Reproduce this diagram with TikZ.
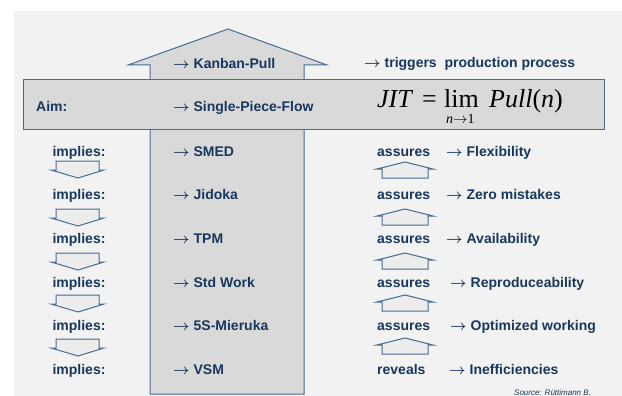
\documentclass[tikz,border=0pt]{standalone}
\usepackage{fontspec}
\setmainfont{Liberation Sans}
\newfontfamily\formulafont{Liberation Serif}
\newcommand{\ra}{{\boldmath$\rightarrow$}}
\definecolor{txtblue}{RGB}{23,55,94}
\definecolor{edgeblue}{RGB}{72,108,148}
\definecolor{boxgray}{RGB}{217,217,217}
\definecolor{arrowgray}{RGB}{236,236,236}
\definecolor{bggray}{RGB}{242,242,242}
\tikzset{
  lbl/.style={text=txtblue, font=\fontsize{14}{16}\selectfont\bfseries, anchor=base west, inner sep=0pt},
  frm/.style={text=black, font=\formulafont\fontsize{26}{28}\selectfont, anchor=base west, inner sep=0pt},
  shapebox/.style={draw=edgeblue, line width=1pt, fill=boxgray},
  smallarrow/.style={draw=edgeblue, line width=1pt, fill=arrowgray},
  downarrow/.pic={\path[smallarrow] (-22,0) -- (21,0) -- (21,9) -- (26,9) -- (0,17) -- (-27,9) -- (-22,9) -- cycle;},
  uparrow/.pic={\path[smallarrow] (0,0) -- (28,7) -- (23,7) -- (23,16) -- (-23,16) -- (-23,7) -- (-28,7) -- cycle;}
}
\begin{document}
\begin{tikzpicture}[x=1pt,y=-1pt]
\useasboundingbox (0,0) rectangle (622,396);
% background panel
\fill[bggray] (14,11) rectangle (622,396);

% large upward arrow (pull direction)
\path[shapebox] (150,394) -- (150,65) -- (128,65) -- (228,29) -- (327,65) -- (304,65) -- (304,394) -- cycle;
% aim bar
\path[shapebox] (23,80) rectangle (604,130);

% top row
\node[lbl] (kanban) at (173,69) {\ra\ Kanban-Pull};
\node[lbl] (trigger) at (364,68) {\ra\ triggers\ \ production process};

% aim row
\node[lbl] (aim) at (36,112) {Aim:};
\node[lbl] (spf) at (173,112) {\ra\ Single-Piece-Flow};
\node[frm] (jit) at (377,108) {\itshape JIT};
\node[frm] (eq) at (422,108) {=};
\node[frm] (lim) at (444,108) {lim};
\node[frm] (pull) at (489,108) {\itshape Pull\upshape(\itshape n\upshape)};
\node[text=black, font=\formulafont\fontsize{14}{15}\selectfont, anchor=base west, inner sep=0pt] (sub) at (446,124) {\itshape n\upshape$\rightarrow$1};

% left column: implies
\foreach \yy [count=\i] in {157,200,243,287,330,374}
  \node[lbl, anchor=base] (imp\i) at (79,\yy) {implies:};
\foreach \yy in {161,209,253,295,339}
  \pic at (78,\yy) {downarrow};

% middle column: tools
\node[lbl] (smed) at (173,157) {\ra\ SMED};
\node[lbl] (jidoka) at (173,200) {\ra\ Jidoka};
\node[lbl] (tpm) at (173,243) {\ra\ TPM};
\node[lbl] (std) at (173,287) {\ra\ Std Work};
\node[lbl] (fives) at (173,330) {\ra\ 5S-Mieruka};
\node[lbl] (vsm) at (173,374) {\ra\ VSM};

% right column: effects
\node[lbl] (as1) at (377,157) {assures};
\node[lbl] (as2) at (377,200) {assures};
\node[lbl] (as3) at (377,243) {assures};
\node[lbl] (as4) at (377,287) {assures};
\node[lbl] (as5) at (377,330) {assures};
\node[lbl] (rev) at (377,374) {reveals};
\node[lbl] (flex) at (446,157) {\ra\ Flexibility};
\node[lbl] (zero) at (446,200) {\ra\ Zero mistakes};
\node[lbl] (avail) at (446,243) {\ra\ Availability};
\node[lbl] (repro) at (450,287) {\ra\ Reproduceability};
\node[lbl] (optim) at (450,330) {\ra\ Optimized working};
\node[lbl] (ineff) at (449,374) {\ra\ Inefficiencies};
\foreach \yy in {162,209,253,295,338}
  \pic at (405,\yy) {uparrow};

% source note
\node[text=txtblue, font=\fontsize{8}{9}\selectfont\itshape, anchor=base west, inner sep=0pt] (src) at (514,395) {Source: Rüttimann B.};
\end{tikzpicture}
\end{document}
